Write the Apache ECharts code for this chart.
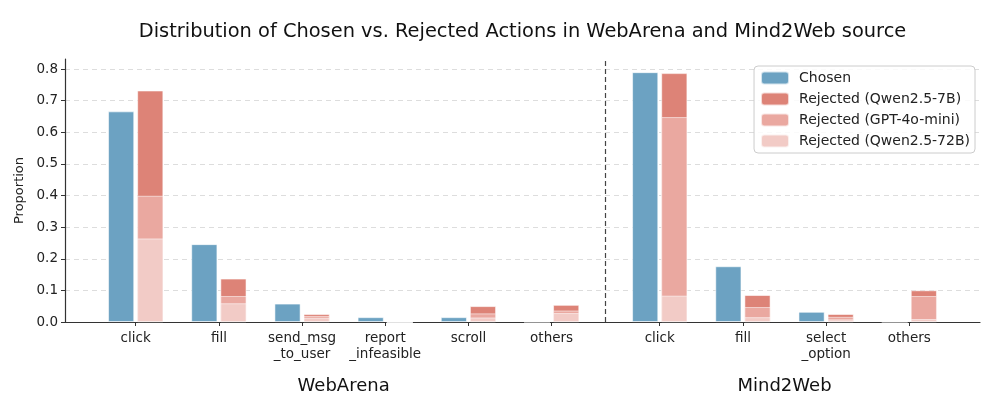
<!DOCTYPE html>
<html>
<head>
<meta charset="utf-8">
<script src="https://cdn.jsdelivr.net/npm/echarts@6/dist/echarts.min.js"></script>
<style>
  html, body { margin: 0; padding: 0; background: #fff; }
  #chart { width: 997px; height: 399px; }
</style>
</head>
<body>
<div id="chart"></div>
<script>
// categories and where they sit on the x axis (Mind2Web group shifted right)
var waCats = ['click', 'fill', 'send_msg\n_to_user', 'report\n_infeasible', 'scroll', 'others'];
var m2wCats = ['click', 'fill', 'select\n_option', 'others'];
var waPos = [0, 1, 2, 3, 4, 5];
var m2wPos = [6.3, 7.3, 8.3, 9.3];
var groups = ['WebArena', 'Mind2Web'];

// values: WebArena first, then Mind2Web
var chosen     = [0.666, 0.246, 0.058, 0.015, 0.015, 0.000, 0.790, 0.176, 0.032, 0.000];
var rejQwen7   = [0.732, 0.137, 0.025, 0.000, 0.050, 0.054, 0.787, 0.085, 0.025, 0.100];
var rejGpt     = [0.399, 0.082, 0.019, 0.000, 0.027, 0.036, 0.648, 0.047, 0.016, 0.082];
var rejQwen72  = [0.264, 0.059, 0.013, 0.000, 0.014, 0.028, 0.083, 0.015, 0.008, 0.009];

var yTicks = [0, 0.1, 0.2, 0.3, 0.4, 0.5, 0.6, 0.7, 0.8];

var allCats = waCats.concat(m2wCats);
var allPos = waPos.concat(m2wPos);
var divider = (waPos[waPos.length - 1] + m2wPos[0]) / 2;
var off = 0.175;

function pairs(vals, shift) {
    return vals.map(function (v, i) { return [allPos[i] + shift, v]; });
}
function catName(v) {
    for (var i = 0; i < allPos.length; i++) {
        if (Math.abs(allPos[i] - v) < 1e-6) return allCats[i];
    }
    return '';
}

var font = 'DejaVu Sans';
var barBorder = { borderColor: 'rgba(255,255,255,0.7)', borderWidth: 0.8 };

function barSeries(name, vals, shift, color) {
    return {
        name: name,
        type: 'bar',
        data: pairs(vals, shift),
        barWidth: 26,
        barGap: '-100%',
        z: 2,
        itemStyle: Object.assign({ color: color }, barBorder)
    };
}

var chart = echarts.init(document.getElementById('chart'));
var option = {
    animation: false,
    textStyle: { fontFamily: font },
    grid: { left: 65, right: 17, top: 59, bottom: 77 },
    legend: {
        orient: 'vertical',
        right: 22,
        top: 66,
        itemWidth: 28,
        itemHeight: 13,
        itemGap: 5,
        padding: [4, 5, 4, 6],
        borderColor: '#cccccc',
        borderWidth: 1,
        borderRadius: 4,
        backgroundColor: 'rgba(255,255,255,0.85)',
        textStyle: { fontFamily: font, fontSize: 14, lineHeight: 16, color: '#222', padding: [0, 0, 0, 5] },
        data: ['Chosen', 'Rejected (Qwen2.5-7B)', 'Rejected (GPT-4o-mini)', 'Rejected (Qwen2.5-72B)']
    },
    xAxis: {
        type: 'value',
        min: -0.85,
        max: 10.15,
        splitLine: { show: false },
        axisLine: { onZero: false, lineStyle: { color: '#333', width: 1.2 } },
        axisTick: { customValues: allPos, length: 4, lineStyle: { color: '#333' } },
        axisLabel: {
            customValues: allPos,
            formatter: catName,
            fontFamily: font,
            fontSize: 13.5,
            lineHeight: 16,
            color: '#222',
            margin: 8
        }
    },
    yAxis: {
        type: 'value',
        min: 0,
        max: 0.832,
        name: 'Proportion',
        nameLocation: 'middle',
        nameGap: 37,
        nameTextStyle: { fontFamily: font, fontSize: 13, color: '#222' },
        splitLine: { show: false },
        axisLine: { show: true, onZero: false, lineStyle: { color: '#333', width: 1.2 } },
        axisTick: { show: true, customValues: yTicks, length: 4, lineStyle: { color: '#333' } },
        axisLabel: {
            customValues: yTicks,
            formatter: function (v) { return v.toFixed(1); },
            fontFamily: font,
            fontSize: 13.5,
            color: '#222',
            margin: 7
        }
    },
    series: [
        {
            type: 'line',
            data: [],
            z: 0,
            silent: true,
            markLine: {
                z: 0,
                symbol: 'none',
                silent: true,
                label: { show: false },
                lineStyle: { type: [5, 4], color: '#dddddd', width: 1 },
                data: yTicks.slice(1).map(function (t) { return { yAxis: t }; })
            }
        },
        {
            type: 'line',
            data: [],
            z: 1,
            silent: true,
            markLine: {
                z: 1,
                symbol: 'none',
                silent: true,
                label: { show: false },
                lineStyle: { type: [5, 3], color: '#444', width: 1.2 },
                data: [{ xAxis: divider }]
            }
        },
        barSeries('Chosen', chosen, -off, '#6ca2c2'),
        barSeries('Rejected (Qwen2.5-7B)', rejQwen7, off, '#dd8377'),
        barSeries('Rejected (GPT-4o-mini)', rejGpt, off, '#eaa8a0'),
        barSeries('Rejected (Qwen2.5-72B)', rejQwen72, off, '#f2cbc6')
    ]
};
chart.setOption(option);

// title and group labels placed from the axis scale
var leftPx = chart.convertToPixel({ gridIndex: 0 }, [-0.85, 0])[0];
var rightPx = chart.convertToPixel({ gridIndex: 0 }, [10.15, 0])[0];
var waMid = chart.convertToPixel({ gridIndex: 0 }, [(waPos[0] + waPos[waPos.length - 1]) / 2, 0])[0];
var m2wMid = chart.convertToPixel({ gridIndex: 0 }, [(m2wPos[0] + m2wPos[m2wPos.length - 1]) / 2, 0])[0];

chart.setOption({
    graphic: [
        {
            type: 'text', x: (leftPx + rightPx) / 2, y: 32,
            style: { text: 'Distribution of Chosen vs. Rejected Actions in WebArena and Mind2Web source',
                     font: '19.4px "DejaVu Sans"', fill: '#111', textAlign: 'center', textVerticalAlign: 'middle' }
        },
        {
            type: 'text', x: waMid, y: 386,
            style: { text: groups[0], font: '18px "DejaVu Sans"', fill: '#111', textAlign: 'center', textVerticalAlign: 'middle' }
        },
        {
            type: 'text', x: m2wMid, y: 386,
            style: { text: groups[1], font: '18px "DejaVu Sans"', fill: '#111', textAlign: 'center', textVerticalAlign: 'middle' }
        }
    ]
});
</script>
</body>
</html>
